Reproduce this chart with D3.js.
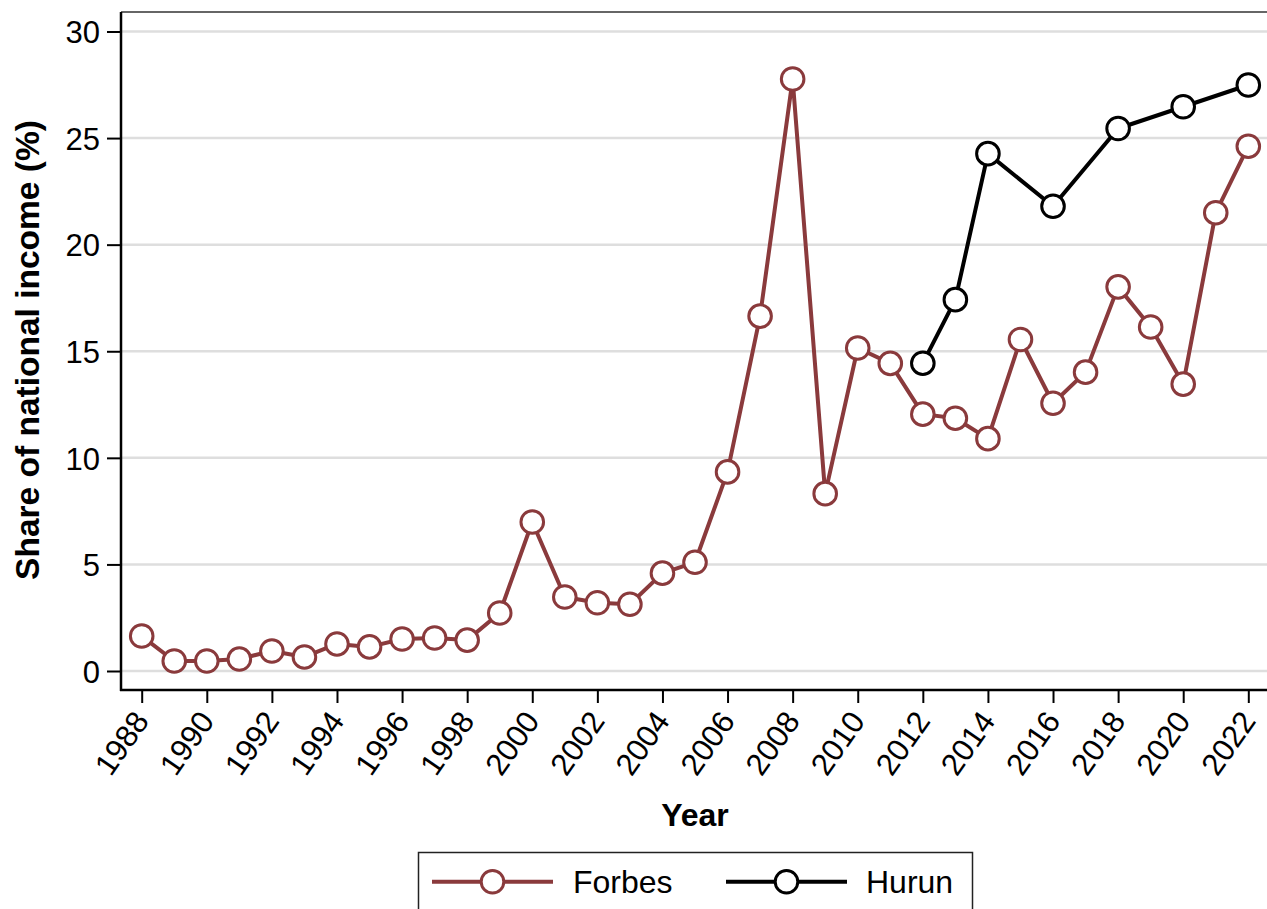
<!DOCTYPE html>
<html><head><meta charset="utf-8">
<script src="https://cdn.jsdelivr.net/npm/d3@7"></script>
<style>body{margin:0;background:#fff;} text{font-family:"Liberation Sans",Arial,Helvetica,sans-serif;}</style>
</head><body>
<svg id="c" width="1267" height="909"></svg>
<script>
const forbesYears = d3.range(1988, 2023);
const forbesValues = [1.64,0.47,0.47,0.56,0.94,0.66,1.27,1.13,1.5,1.55,1.45,2.72,6.99,3.47,3.2,3.13,4.59,5.1,9.34,16.65,27.77,8.32,15.15,14.43,12.05,11.86,10.9,15.55,12.56,14.02,18.02,16.14,13.46,21.5,24.62];
const hurunYears = [2012,2013,2014,2016,2018,2020,2022];
const hurunValues = [14.44,17.42,24.27,21.8,25.45,26.47,27.49];
const yTicks = [0,5,10,15,20,25,30];
const xTicks = d3.range(1988, 2023, 2);
const seriesNames = ["Forbes","Hurun"];
const colors = {Forbes:"#8a3a3c", Hurun:"#000000"};

const svg = d3.select("#c");
const pL = 121, pR = 1267, pT = 12, pB = 690;
const x = d3.scaleLinear().domain([1988,2022]).range([141.7,1248.3]);
const y = d3.scaleLinear().domain([0,30]).range([671,31.5]);

// gridlines
svg.append("g").selectAll("line").data(yTicks).join("line")
  .attr("x1", pL).attr("x2", pR)
  .attr("y1", d=>y(d)).attr("y2", d=>y(d))
  .attr("stroke","#dedede").attr("stroke-width",2.5);

// top border
svg.append("line").attr("x1",pL).attr("x2",pR).attr("y1",pT).attr("y2",pT)
  .attr("stroke","#333").attr("stroke-width",1.5);

// y axis
const yAxis = svg.append("g").attr("transform",`translate(${pL},0)`)
  .call(d3.axisLeft(y).tickValues(yTicks).tickSize(14).tickPadding(7).tickFormat(d3.format("d")));
yAxis.select(".domain").remove();
yAxis.append("line").attr("x1",0).attr("x2",0).attr("y1",pT).attr("y2",pB+1).attr("stroke","#000").attr("stroke-width",2.5);
yAxis.selectAll(".tick line").attr("stroke","#000").attr("stroke-width",2);
yAxis.selectAll(".tick text").attr("font-size",31).attr("fill","#000").attr("dy","0.36em");

// x axis
const xAxis = svg.append("g").attr("transform",`translate(0,${pB})`)
  .call(d3.axisBottom(x).tickValues(xTicks).tickSize(13).tickFormat(d3.format("d")));
xAxis.select(".domain").remove();
xAxis.append("line").attr("x1",pL-1).attr("x2",pR).attr("y1",0).attr("y2",0).attr("stroke","#000").attr("stroke-width",2.5);
xAxis.selectAll(".tick line").attr("stroke","#000").attr("stroke-width",2);
xAxis.selectAll(".tick text").attr("font-size",31).attr("fill","#000")
  .attr("text-anchor","end").attr("y",0).attr("dy",0)
  .attr("transform","translate(8,31) rotate(-55)");

// axis titles
svg.append("text").attr("x",695).attr("y",826).attr("text-anchor","middle")
  .attr("font-size",32).attr("font-weight","bold").text("Year");
svg.append("text").attr("transform","translate(39,350) rotate(-90)").attr("text-anchor","middle")
  .attr("font-size",33.5).attr("font-weight","bold").text("Share of national income (%)");

// series
const line = d3.line().x(d=>x(d[0])).y(d=>y(d[1]));
const fData = forbesYears.map((yr,i)=>[yr,forbesValues[i]]);
const hData = hurunYears.map((yr,i)=>[yr,hurunValues[i]]);
function drawSeries(data,col){
  svg.append("path").datum(data).attr("d",line).attr("fill","none")
    .attr("stroke",col).attr("stroke-width",4).attr("stroke-linejoin","round");
  svg.append("g").selectAll("circle").data(data).join("circle")
    .attr("cx",d=>x(d[0])).attr("cy",d=>y(d[1])).attr("r",11.3)
    .attr("fill","#fff").attr("stroke",col).attr("stroke-width",3);
}
drawSeries(fData,colors.Forbes);
drawSeries(hData,colors.Hurun);

// legend
const lg = svg.append("g");
lg.append("rect").attr("x",418.5).attr("y",852.5).attr("width",554).attr("height",80)
  .attr("fill","#fff").attr("stroke","#222").attr("stroke-width",1.5);
const items = [{name:seriesNames[0],x0:432,tx:573},{name:seriesNames[1],x0:726,tx:866}];
items.forEach(it=>{
  const col = colors[it.name];
  lg.append("line").attr("x1",it.x0).attr("x2",it.x0+121).attr("y1",881.7).attr("y2",881.7)
    .attr("stroke",col).attr("stroke-width",4);
  lg.append("circle").attr("cx",it.x0+60.5).attr("cy",881.7).attr("r",11.3)
    .attr("fill","#fff").attr("stroke",col).attr("stroke-width",3);
  lg.append("text").attr("x",it.tx).attr("y",893).attr("font-size",32).text(it.name);
});
</script>
</body></html>
